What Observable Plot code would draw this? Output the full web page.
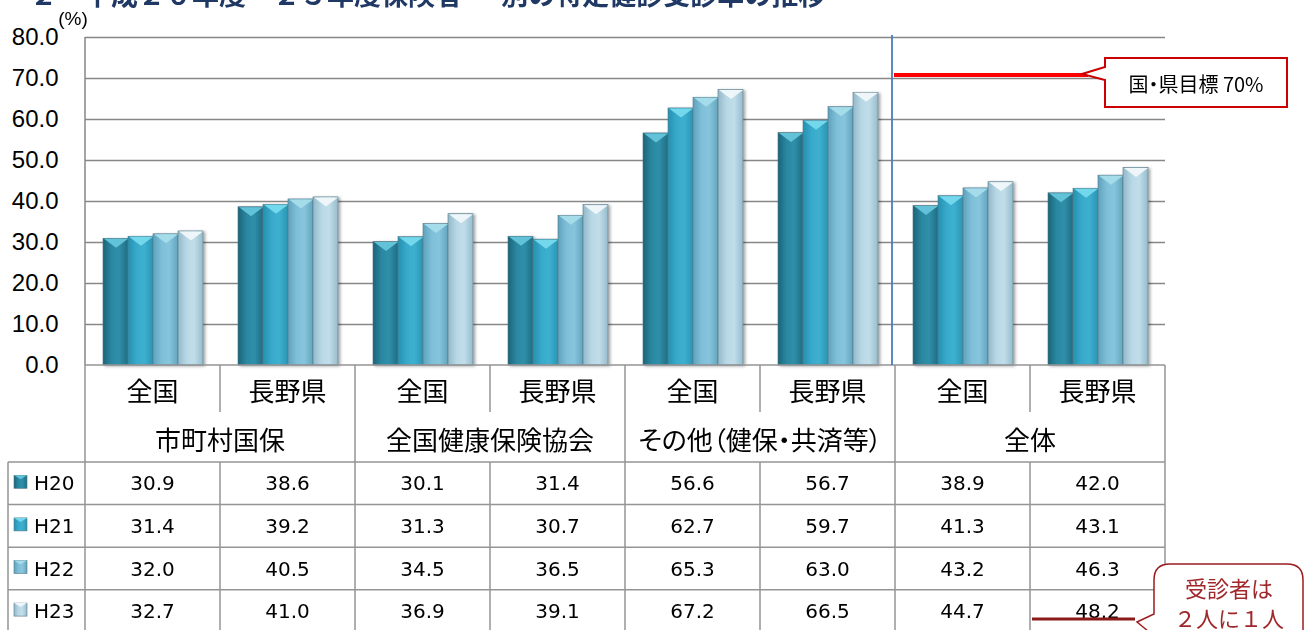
<!DOCTYPE html>
<html><head><meta charset="utf-8">
<script src="https://cdn.jsdelivr.net/npm/d3@7"></script>
<script src="https://cdn.jsdelivr.net/npm/@observablehq/plot@0.6"></script>
<style>
html,body{margin:0;padding:0;background:#fff;overflow:hidden}
#chart{position:relative;width:1309px;height:630px}
</style></head><body><div id="chart"></div>
<script>
// ---- data ----
const titleText = "２　平成２０年度～２３年度保険者 ― 別の特定健診受診率の推移";
const groups = ["市町村国保", "全国健康保険協会", "その他（健保・共済等）", "全体"];
const regions = ["全国", "長野県"];
const years = ["H20", "H21", "H22", "H23"];
const valuesH20 = [30.9, 38.6, 30.1, 31.4, 56.6, 56.7, 38.9, 42.0];
const valuesH21 = [31.4, 39.2, 31.3, 30.7, 62.7, 59.7, 41.3, 43.1];
const valuesH22 = [32.0, 40.5, 34.5, 36.5, 65.3, 63.0, 43.2, 46.3];
const valuesH23 = [32.7, 41.0, 36.9, 39.1, 67.2, 66.5, 44.7, 48.2];
const yTicks = [0, 10, 20, 30, 40, 50, 60, 70, 80];
const targetValue = 70;
const targetLabel = "国・県目標 70%";
const calloutLines = ["受診者は", "２人に１人"];
const yUnit = "(%)";

// ---- styles ----
const gradStops = {
  H20: ["#1b6478", "#2b88a2", "#2f8fa9", "#1f6d83"],
  H21: ["#2690b0", "#38aacb", "#3db0cf", "#2a94b3"],
  H22: ["#5fa2bd", "#7fbfd8", "#86c5dc", "#63a5bf"],
  H23: ["#93b9ca", "#b9d8e6", "#c0dde9", "#97bccc"]
};
const chevronFill = {H20: "#62c3d8", H21: "#74d8ec", H22: "#a4dcea", H23: "#eef6f9"};
const CJK = "'Noto Sans CJK JP', 'Noto Sans', sans-serif";
const NUM = "'DejaVu Sans', sans-serif";

const W = 1309, H = 630;
const colKeys = groups.flatMap(g => regions.map(r => g + "|" + r));
const seriesValues = [valuesH20, valuesH21, valuesH22, valuesH23];
const data = [];
years.forEach((yr, i) => seriesValues[i].forEach((v, j) => data.push({key: colKeys[j], year: yr, value: v})));

const chevron = {draw(ctx) { ctx.moveTo(-12, 0); ctx.lineTo(12, 0); ctx.lineTo(0, 9); ctx.closePath(); }};

const plot = Plot.plot({
  width: W, height: H,
  marginTop: 37, marginBottom: 265, marginLeft: 85, marginRight: 144,
  style: {fontFamily: "'Liberation Sans', Arial, sans-serif", fontSize: "24px", color: "#000", background: "#fff", overflow: "visible"},
  facet: {data, x: "key"},
  fx: {domain: colKeys, padding: 0, axis: null, label: null},
  x: {domain: years, paddingInner: 0, paddingOuter: 0.7, axis: null},
  y: {domain: [0, 80], ticks: yTicks, tickFormat: d => d.toFixed(1), tickSize: 0, tickPadding: 27, label: null},
  color: {type: "identity"},
  marks: [
    Plot.ruleY(yTicks.slice(1), {stroke: "#878787", strokeWidth: 1.5}),
    Plot.barY(data, {x: "year", y: "value", fill: d => `url(#grad-${d.year})`, stroke: "#557886", strokeWidth: 0.6, inset: 0}),
    Plot.dot(data, {x: "year", y: "value", symbol: chevron, r: 5, fill: d => chevronFill[d.year], stroke: "none"})
  ]
});

const svg = d3.select(plot);
// defs
const defs = svg.insert("defs", ":first-child");
years.forEach(yr => {
  const g = defs.append("linearGradient").attr("id", "grad-" + yr).attr("x1", 0).attr("x2", 1).attr("y1", 0).attr("y2", 0);
  [0, 0.35, 0.65, 1].forEach((o, k) => g.append("stop").attr("offset", o).attr("stop-color", gradStops[yr][k]));
});
const f = defs.append("filter").attr("id", "shadow").attr("x", "-20%").attr("y", "-5%").attr("width", "150%").attr("height", "115%");
f.append("feDropShadow").attr("dx", 2).attr("dy", 1).attr("stdDeviation", 1.5).attr("flood-color", "#000").attr("flood-opacity", 0.35);
svg.selectAll('g[aria-label="bar"]').attr("filter", "url(#shadow)");

const fxs = plot.scale("fx"), ys = plot.scale("y");
const step = (fxs.range[1] - fxs.range[0]) / colKeys.length;
const colX = i => fxs.range[0] + i * step;
const yPx = v => ys.apply(v);
const yBase = yPx(0), yTop = yPx(80);
const rowA = yBase + 47, rowB = yBase + 97, rowH = 42.6;
const rowY = i => rowB + i * rowH;
const legendLeft = 8;
const xRight = colX(colKeys.length);

const deco = svg.append("g");
const ln = (x1, y1, x2, y2, stroke = "#959595", w = 1.5) =>
  deco.append("line").attr("x1", x1).attr("y1", y1).attr("x2", x2).attr("y2", y2).attr("stroke", stroke).attr("stroke-width", w);

// left axis line
ln(colX(0), yTop, colX(0), yBase, "#878787");
// table
ln(colX(0), yBase, xRight, yBase);
for (let i = 0; i <= colKeys.length; i++) {
  const isGroupEdge = i % regions.length === 0;
  if (isGroupEdge) ln(colX(i), yBase, colX(i), H + 5);
  else { ln(colX(i), yBase, colX(i), rowA); ln(colX(i), rowB, colX(i), H + 5); }
}
for (let r = 0; r < years.length; r++) ln(legendLeft, rowY(r), xRight, rowY(r));
ln(legendLeft, rowB, legendLeft, H + 5);

const txt = (x, y, s, opts = {}) => deco.append("text").attr("x", x).attr("y", y)
  .attr("text-anchor", opts.anchor || "middle").attr("dominant-baseline", "central")
  .attr("font-family", opts.font || CJK).attr("font-size", opts.size || 26)
  .attr("fill", opts.fill || "#000").attr("font-weight", opts.weight || "normal").text(s);

colKeys.forEach((k, i) => txt(colX(i) + step / 2, (yBase + rowA) / 2 + 1, k.split("|")[1], {size: 26}));
groups.forEach((g, i) => {
  const t = txt(colX(i * 2) + step, (rowA + rowB) / 2 + 1, g, {size: 26});
  if (g.length > 8) t.style("font-feature-settings", "'palt'");
});
years.forEach((yr, r) => {
  const cy = (rowY(r) + rowY(r + 1)) / 2;
  deco.append("rect").attr("x", 14).attr("y", cy - 8).attr("width", 13).attr("height", 13)
    .attr("fill", `url(#grad-${yr})`).attr("stroke", "#557886").attr("stroke-width", 0.6);
  deco.append("path").attr("d", `M14,${cy - 8}h13l-6.5,4z`).attr("fill", chevronFill[yr]);
  txt(34, cy, yr, {anchor: "start", font: NUM, size: 20});
  seriesValues[r].forEach((v, j) => txt(colX(j) + step / 2, cy, v.toFixed(1), {font: NUM, size: 20}));
});

// y unit
deco.append("text").attr("x", 73).attr("y", 25).attr("text-anchor", "middle")
  .attr("font-family", "'Liberation Sans', Arial, sans-serif").attr("font-size", 19).text(yUnit);

// title (clipped at top, as in the reference)
deco.append("text").attr("x", 30).attr("y", 5).attr("text-anchor", "start").attr("font-family", CJK).attr("font-size", 27)
  .attr("font-weight", "bold").attr("fill", "#1f3864").text(titleText);

// separator before 全体
const sepX = colX(6) - 3;
ln(sepX, yTop - 2, sepX, yBase, "#4a7ebb", 1.8);

// target line + callout
const ty = yPx(targetValue) - 3;
ln(sepX + 2, ty, 1088, ty, "#ff0000", 4);
deco.append("path").attr("d", "M1105,58 H1287 V107 H1105 V80 L1082,74 L1105,67 Z")
  .attr("fill", "#fff").attr("stroke", "#cc0000").attr("stroke-width", 2);
txt(1196, 83, targetLabel, {size: 20}).style("font-feature-settings", "'palt'");

// second callout
const lastY = (rowY(3) + rowY(4)) / 2;
ln(colX(7) + 2, lastY + 8, 1135, lastY + 8, "#8b1a1a", 3);
deco.append("path").attr("d", "M1154,610 V580 Q1154,564 1170,564 H1287 Q1303,564 1303,580 V660 H1154 V636 L1137,622 L1154,614 Z")
  .attr("fill", "#fff").attr("stroke", "#9b1c20").attr("stroke-width", 1.5);
txt(1229, 587, calloutLines[0], {size: 22, fill: "#a0282b"});
txt(1229, 617, calloutLines[1], {size: 22, fill: "#a0282b"});

document.getElementById("chart").appendChild(plot);
</script></body></html>
